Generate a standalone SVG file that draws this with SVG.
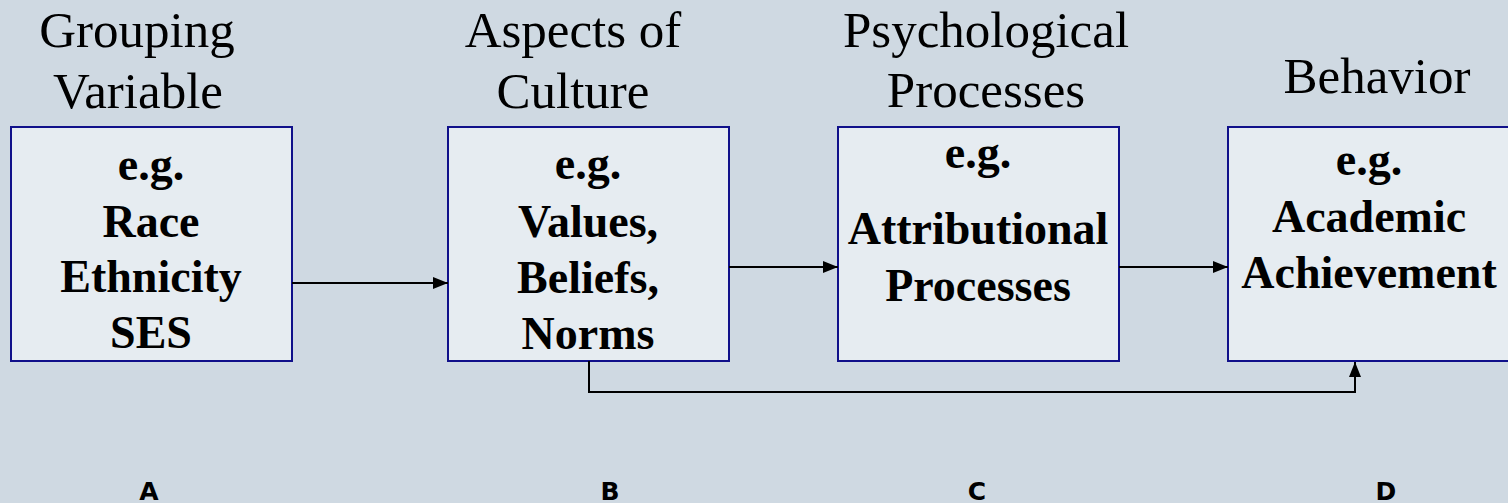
<svg xmlns="http://www.w3.org/2000/svg" width="1508" height="503" viewBox="0 0 1508 503">
<defs>
<style>
.bg{fill:#CFD9E2}
.box{fill:#E6ECF1;stroke:#10108A;stroke-width:2}
.hd{font-family:"Liberation Serif","Times New Roman",serif;font-size:51px;fill:#000;text-anchor:middle}
.bt{font-family:"Liberation Serif","Times New Roman",serif;font-size:46px;font-weight:bold;fill:#000;text-anchor:middle}
.lb{font-family:"DejaVu Sans",Verdana,sans-serif;font-size:25px;font-weight:bold;fill:#000;text-anchor:middle}
.cn{fill:none;stroke:#000;stroke-width:2}
</style>
<marker id="ah" viewBox="0 0 15 12" refX="15" refY="6" markerWidth="15" markerHeight="12" markerUnits="userSpaceOnUse" orient="auto">
<path d="M0,0 L15,6 L0,12 Z" fill="#000"/>
</marker>
</defs>
<rect class="bg" x="0" y="0" width="1508" height="503"/>
<g id="headers">
<text class="hd" x="137" y="47">Grouping</text>
<text class="hd" x="138" y="108">Variable</text>
<text class="hd" x="573" y="47">Aspects of</text>
<text class="hd" x="573" y="108">Culture</text>
<text class="hd" x="986" y="47">Psychological</text>
<text class="hd" x="986" y="107">Processes</text>
<text class="hd" x="1377" y="93">Behavior</text>
</g>
<g id="nodeA">
<rect class="box" x="11" y="127" width="281" height="234"/>
<text class="bt" x="151" y="180">e.g.</text>
<text class="bt" x="151" y="237">Race</text>
<text class="bt" x="151" y="292">Ethnicity</text>
<text class="bt" x="151" y="348">SES</text>
</g>
<g id="nodeB">
<rect class="box" x="448" y="127" width="281" height="234"/>
<text class="bt" x="588" y="179">e.g.</text>
<text class="bt" x="588" y="237">Values,</text>
<text class="bt" x="588" y="293">Beliefs,</text>
<text class="bt" x="588" y="349">Norms</text>
</g>
<g id="nodeC">
<rect class="box" x="838" y="127" width="281" height="234"/>
<text class="bt" x="978" y="168">e.g.</text>
<text class="bt" x="978" y="244">Attributional</text>
<text class="bt" x="978" y="301">Processes</text>
</g>
<g id="nodeD">
<rect class="box" x="1228" y="127" width="290" height="234"/>
<text class="bt" x="1369" y="175">e.g.</text>
<text class="bt" x="1369" y="232">Academic</text>
<text class="bt" x="1369" y="288">Achievement</text>
</g>
<g id="connectors">
<line class="cn" x1="292" y1="283" x2="448" y2="283" marker-end="url(#ah)"/>
<line class="cn" x1="729" y1="267" x2="838" y2="267" marker-end="url(#ah)"/>
<line class="cn" x1="1119" y1="267" x2="1228" y2="267" marker-end="url(#ah)"/>
<polyline class="cn" points="589,361 589,392 1355,392 1355,362" marker-end="url(#ah)"/>
</g>
<g id="labels">
<text class="lb" x="149" y="500">A</text>
<text class="lb" x="610" y="500">B</text>
<text class="lb" x="977" y="500">C</text>
<text class="lb" x="1386" y="500">D</text>
</g>
</svg>
